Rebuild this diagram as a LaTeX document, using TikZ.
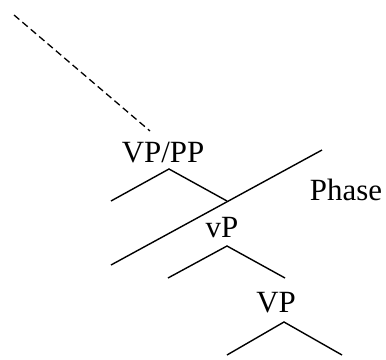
\documentclass[tikz,border=0pt]{standalone}
\usepackage{fontspec}
\setmainfont{Liberation Serif}
\begin{document}
\begin{tikzpicture}[x=1bp,y=-1bp,
  lbl/.style={inner sep=0pt,anchor=base,font=\fontsize{31}{36}\selectfont},
  branch/.style={line width=1.4bp},
  phaseline/.style={line width=1.4bp},
  dash line/.style={line width=1.3bp,dash pattern=on 7bp off 4bp}]
\useasboundingbox (0,0) rectangle (386,360);
% labels
\node[lbl] (vppp) at (163,162) {VP/PP};
\node[lbl] (vp1) at (222,237) {vP};
\node[lbl] (vp2) at (276,312) {VP};
\node[lbl] (phase) at (346,200) {Phase};
% coordinates
\coordinate (top) at (14,15);
\coordinate (dashend) at (150,131);
\coordinate (a1) at (169,169);
\coordinate (l1) at (111,201);
\coordinate (r1) at (227,201);
\coordinate (a2) at (227,246);
\coordinate (l2) at (168,278);
\coordinate (r2) at (285,278);
\coordinate (a3) at (284,322);
\coordinate (l3) at (227,355);
\coordinate (r3) at (342,355);
\coordinate (p1) at (111,265);
\coordinate (p2) at (322,150);
% drawing
\draw[dash line] (top) -- (dashend);
\draw[branch] (l1) -- (a1) -- (r1);
\draw[branch] (l2) -- (a2) -- (r2);
\draw[branch] (l3) -- (a3) -- (r3);
\draw[phaseline] (p1) -- (p2);
\end{tikzpicture}
\end{document}
